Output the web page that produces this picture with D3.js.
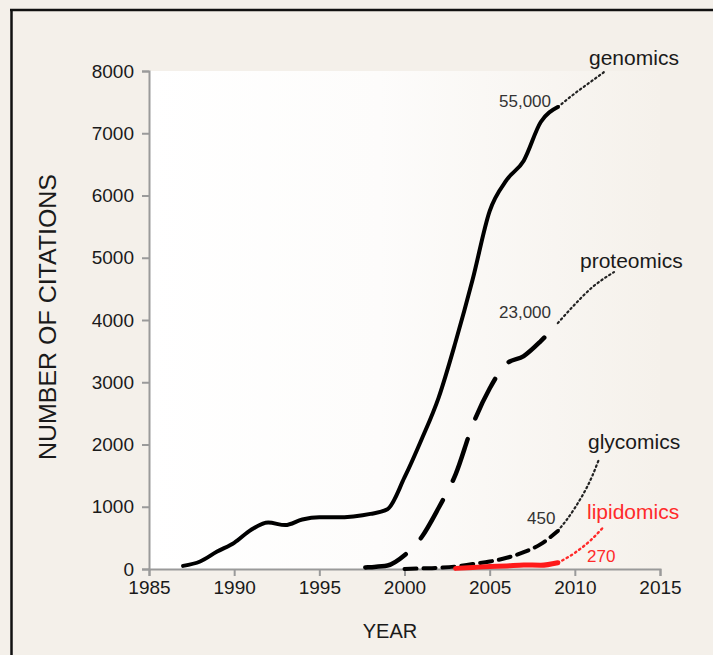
<!DOCTYPE html>
<html><head><meta charset="utf-8">
<script src="https://cdn.jsdelivr.net/npm/d3@7"></script>
<style>
html,body{margin:0;padding:0;background:#f4f0ea;}
svg{display:block;font-family:"Liberation Sans",Arial,Helvetica,sans-serif;}
</style></head>
<body>
<svg id="chart" width="713" height="655"></svg>
<script>
// ---- data ----
const genomicsYears  = [1987,1988,1989,1990,1991,1992,1993,1994,1995,1996,1997,1998,1999,2000,2001,2002,2003,2004,2005,2006,2007,2008,2009];
const genomicsValues = [50,120,280,420,630,745,705,795,830,830,845,885,960,1470,2080,2750,3650,4650,5750,6250,6560,7180,7420];
const genomicsProjYears  = [2009,2010,2011,2011.7];
const genomicsProjValues = [7420,7640,7840,7980];

const proteomicsYears  = [1997.7,1998,1999,2000,2001,2002,2003,2004,2005,2006,2007,2008,2009];
const proteomicsValues = [25,30,55,220,510,980,1520,2310,2900,3300,3420,3660,3950];
const proteomicsProjYears  = [2009,2010,2011,2012.3];
const proteomicsProjValues = [3950,4250,4520,4770];

const glycomicsYears  = [2000,2001,2002,2003,2004,2005,2006,2007,2008,2009];
const glycomicsValues = [0,10,20,40,80,120,180,270,400,610];
const glycomicsProjYears  = [2009,2010,2011,2011.4];
const glycomicsProjValues = [610,980,1480,1750];

const lipidomicsYears  = [2003,2004,2005,2006,2007,2008,2009];
const lipidomicsValues = [10,25,40,50,65,60,100];
const lipidomicsProjYears  = [2009,2010,2011,2011.7];
const lipidomicsProjValues = [100,260,480,680];

const xTicks = [1985,1990,1995,2000,2005,2010,2015];
const yTicks = [0,1000,2000,3000,4000,5000,6000,7000,8000];

const seriesLabels = ["genomics","proteomics","glycomics","lipidomics"];
const totalLabels  = ["55,000","23,000","450","270"];

// ---- drawing ----
const svg = d3.select("#chart");
const x = d3.scaleLinear().domain([1985,2015]).range([149,660]);
const y = d3.scaleLinear().domain([0,8000]).range([569,71]);

const defs = svg.append("defs");
const grad = defs.append("linearGradient").attr("id","bg").attr("x1","0").attr("x2","1").attr("y1","0").attr("y2","0");
grad.append("stop").attr("offset","0").attr("stop-color","#ffffff");
grad.append("stop").attr("offset","0.45").attr("stop-color","#fdfcfb");
grad.append("stop").attr("offset","1").attr("stop-color","#f5f1eb");

// frame
svg.append("rect").attr("x",0).attr("y",0).attr("width",713).attr("height",655).attr("fill","#f4f0ea");
svg.append("rect").attr("x",x(1985)).attr("y",y(8000)).attr("width",x(2015)-x(1985)).attr("height",y(0)-y(8000)).attr("fill","url(#bg)");
svg.append("line").attr("x1",10).attr("x2",713).attr("y1",10).attr("y2",10).attr("stroke","#111").attr("stroke-width",2.5);
svg.append("line").attr("x1",11.5).attr("x2",11.5).attr("y1",9).attr("y2",655).attr("stroke","#111").attr("stroke-width",2.5);

// axes
const axisColor = "#9a9a9a";
const gy = svg.append("g").attr("transform",`translate(${x(1985)},0)`)
  .call(d3.axisLeft(y).tickValues(yTicks).tickFormat(d3.format("d")).tickSize(7).tickSizeOuter(7).tickPadding(8));
const gx = svg.append("g").attr("transform",`translate(0,${y(0)})`)
  .call(d3.axisBottom(x).tickValues(xTicks).tickFormat(d3.format("d")).tickSize(7).tickSizeOuter(7).tickPadding(5));
[gx,gy].forEach(g=>{
  g.select(".domain").attr("stroke",axisColor).attr("stroke-width",2);
  g.selectAll(".tick line").attr("stroke",axisColor).attr("stroke-width",2);
  g.selectAll(".tick text").attr("fill","#1a1a1a").attr("font-size",19).attr("font-family","Liberation Sans, Arial, sans-serif");
});

// axis titles
svg.append("text").attr("x",390).attr("y",633).attr("text-anchor","middle").attr("dominant-baseline","middle")
  .attr("font-size",20).attr("fill","#1a1a1a").text("YEAR");
svg.append("text").attr("transform",`translate(56,${317}) rotate(-90)`).attr("text-anchor","middle")
  .attr("font-size",23).attr("textLength",286).attr("lengthAdjust","spacingAndGlyphs")
  .attr("fill","#1a1a1a").text("NUMBER OF CITATIONS");

const line = d3.line().x(d=>x(d[0])).y(d=>y(d[1])).curve(d3.curveMonotoneX);
const zip = (a,b)=>a.map((v,i)=>[v,b[i]]);

function draw(years, vals, color, width, dash){
  svg.append("path").datum(zip(years,vals)).attr("d",line)
    .attr("fill","none").attr("stroke",color).attr("stroke-width",width)
    .attr("stroke-linecap","round").attr("stroke-linejoin","round")
    .attr("stroke-dasharray",dash||null);
}
// projections (dotted)
draw(genomicsProjYears,genomicsProjValues,"#222",2.2,"1.5,3.2");
draw(proteomicsProjYears,proteomicsProjValues,"#222",2.2,"1.5,3.2");
draw(glycomicsProjYears,glycomicsProjValues,"#222",2.2,"1.5,3.2");
draw(lipidomicsProjYears,lipidomicsProjValues,"#ff2a2a",2.4,"1.5,3.5");
// main series
draw(genomicsYears,genomicsValues,"#000",4);
draw(proteomicsYears,proteomicsValues,"#000",4.5,"44,22");
draw(glycomicsYears,glycomicsValues,"#000",4,"12,7");
draw(lipidomicsYears,lipidomicsValues,"#ff1a1a",5);

// labels
function label(txt, xx, yy, size, color){
  svg.append("text").attr("x",xx).attr("y",yy).attr("font-size",size).attr("fill",color)
    .attr("dominant-baseline","middle").text(txt);
}
label(seriesLabels[0], 589, 59, 21, "#1a1a1a");
label(seriesLabels[1], 580, 262, 21, "#1a1a1a");
label(seriesLabels[2], 588, 443, 21, "#1a1a1a");
label(seriesLabels[3], 587, 513, 21, "#ff2a2a");
label(totalLabels[0], 499, 103, 17, "#333");
label(totalLabels[1], 499, 314, 17, "#333");
label(totalLabels[2], 527, 520, 17, "#333");
label(totalLabels[3], 587, 558, 17, "#ff2a2a");
</script>
</body></html>
